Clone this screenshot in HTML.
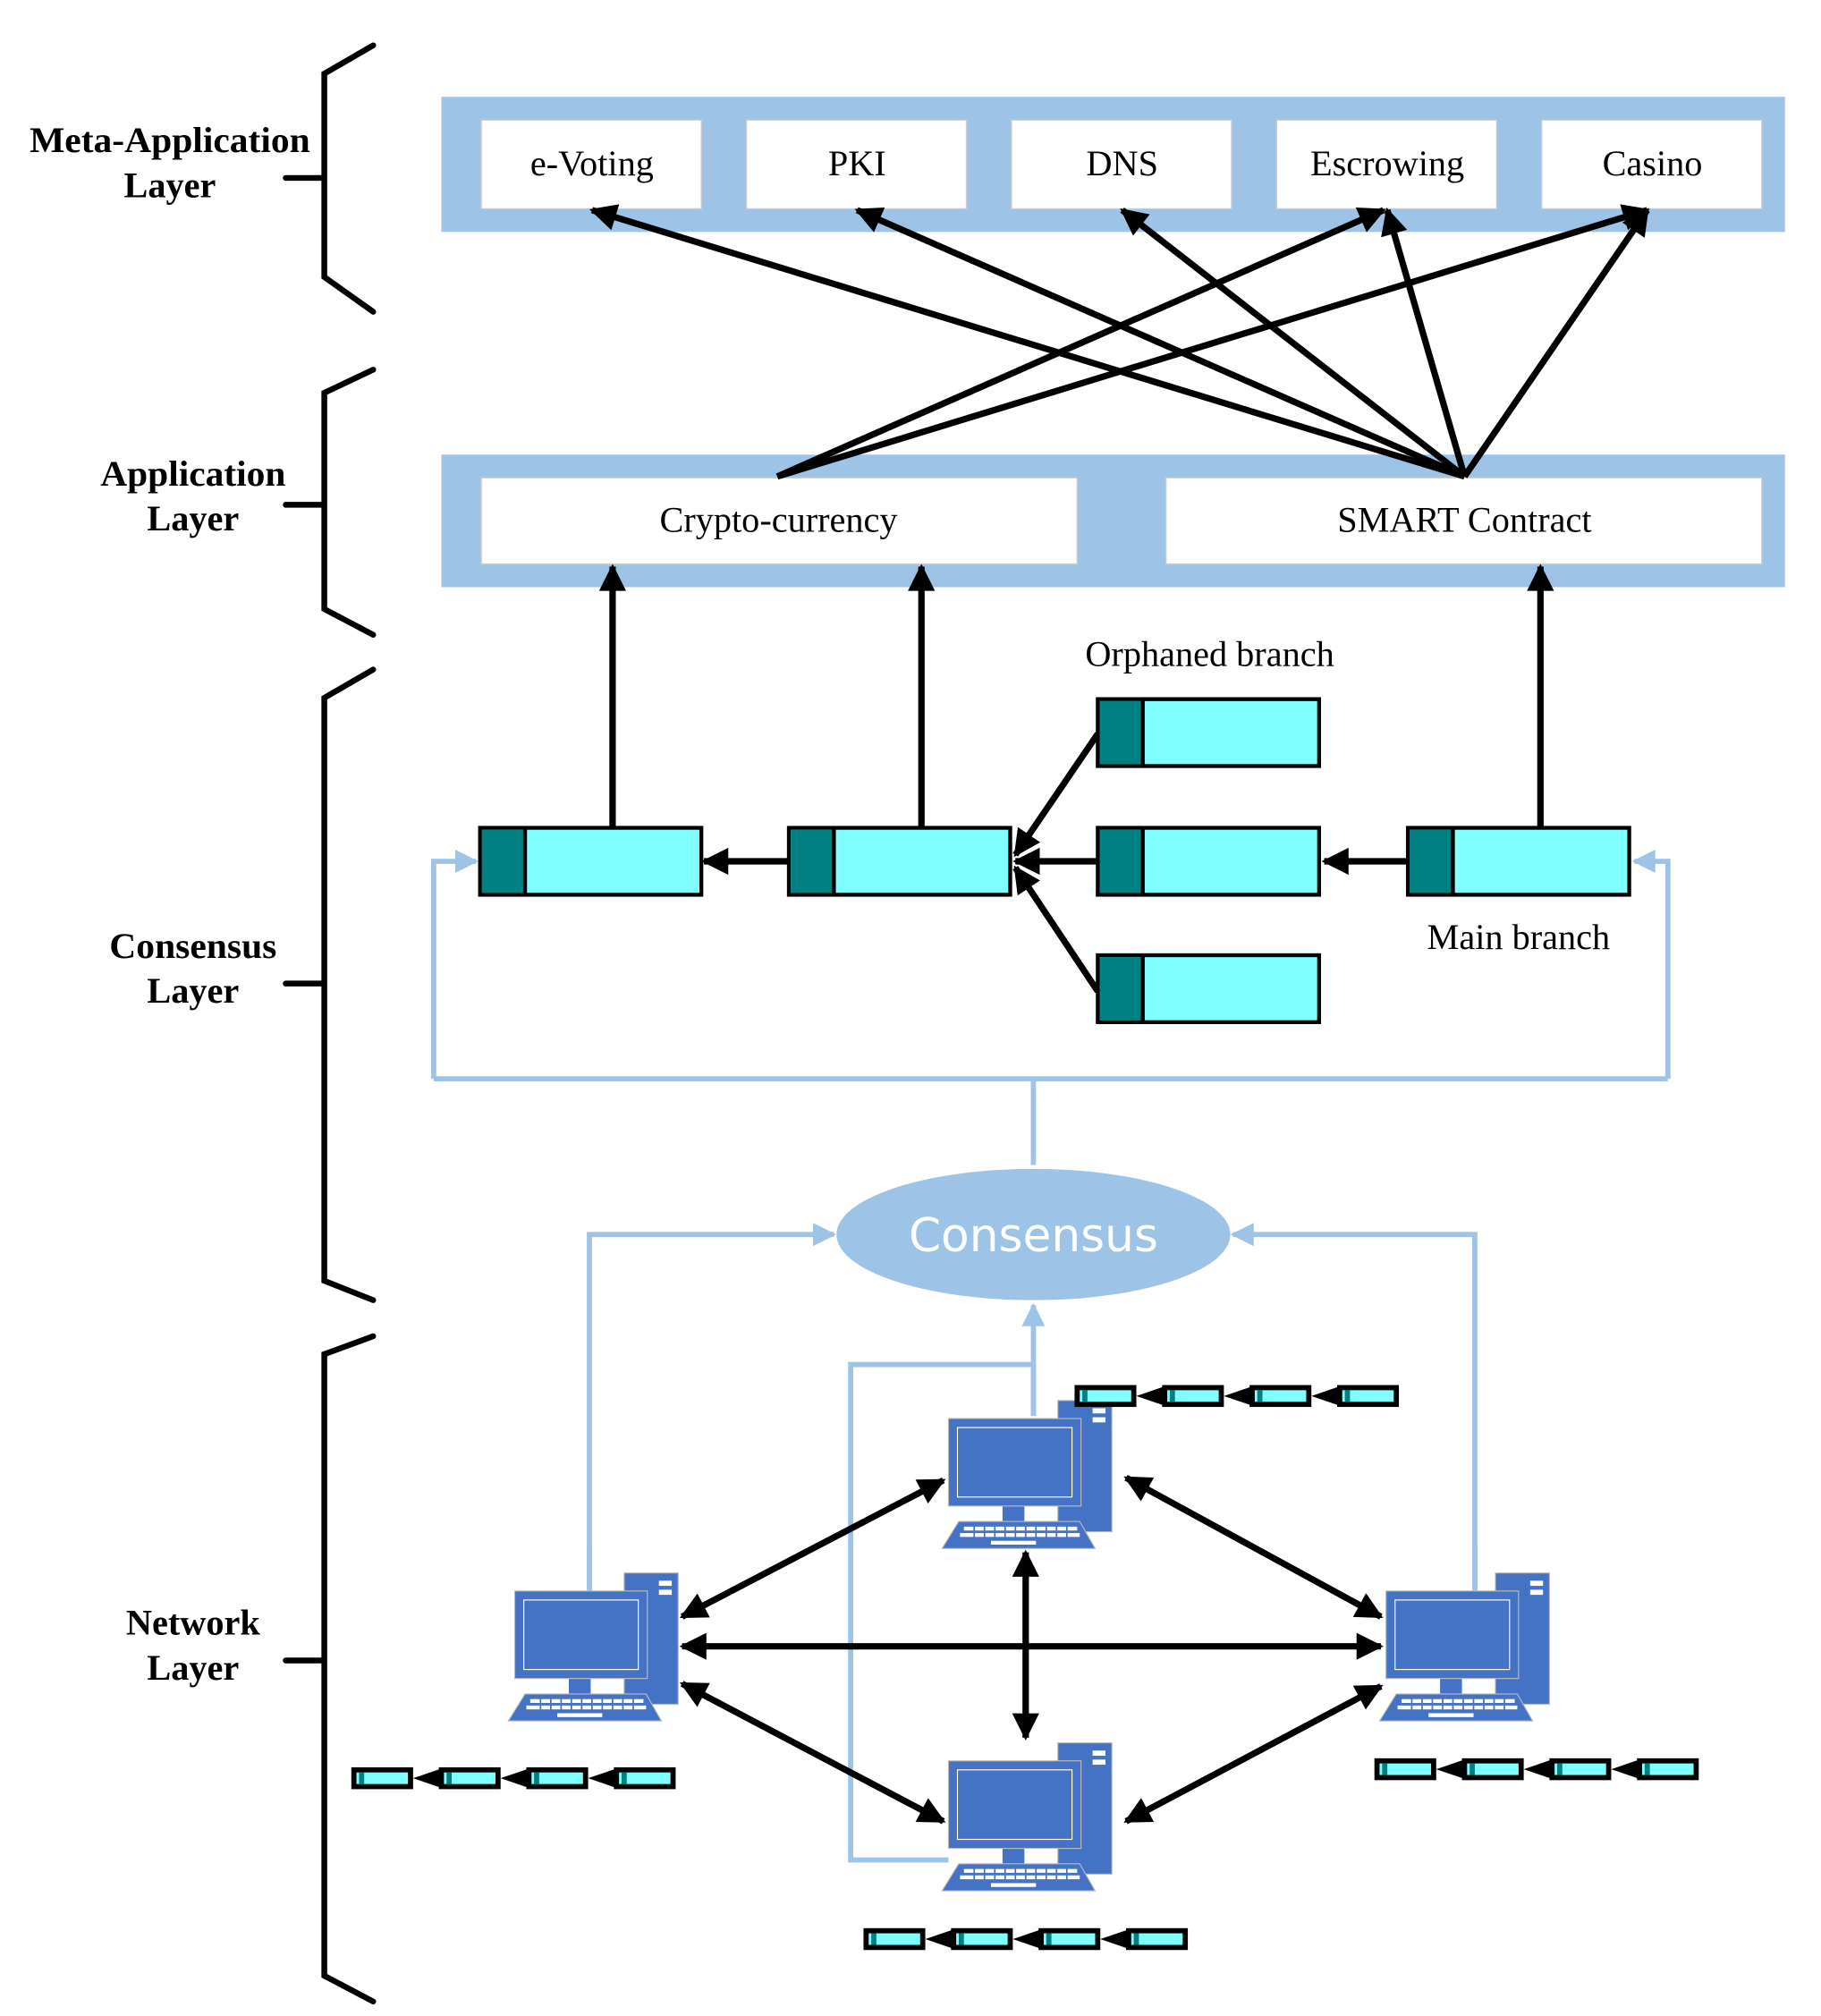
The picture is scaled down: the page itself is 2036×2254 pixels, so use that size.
<!DOCTYPE html>
<html><head><meta charset="utf-8"><style>html,body{margin:0;padding:0;background:#fff}svg{display:block}</style></head>
<body>
<svg width="2036" height="2254" viewBox="0 0 1415 1566" xmlns="http://www.w3.org/2000/svg">
<defs>
<marker id="ab" viewBox="0 0 10 10" refX="9" refY="5" markerWidth="5" markerHeight="4.2" orient="auto-start-reverse" markerUnits="strokeWidth"><path d="M0,0 L10,5 L0,10 z" fill="#000"/></marker>
<marker id="al" viewBox="0 0 10 10" refX="9" refY="5" markerWidth="7" markerHeight="4.5" orient="auto" markerUnits="strokeWidth"><path d="M0,0 L10,5 L0,10 z" fill="#9DC3E6"/></marker>
<g id="pc">
<rect x="85" y="-14" width="42" height="102" fill="#4472C4" stroke="#bbb" stroke-width="0.8"/>
<rect x="112" y="-8" width="10" height="4" fill="#fff"/><rect x="112" y="-1" width="10" height="4" fill="#fff"/>
<rect x="42" y="68" width="17" height="14" fill="#4472C4"/>
<rect x="0" y="0" width="103" height="68" fill="#4472C4" stroke="#bbb" stroke-width="0.8"/>
<rect x="7" y="7" width="89" height="54" fill="none" stroke="#fff" stroke-width="0.8"/>
<polygon points="-5,101 114,101 102,80 8,80" fill="#4472C4" stroke="#bbb" stroke-width="0.8"/>
<g fill="#fff"><rect x="12" y="84" width="88" height="3"/><rect x="9" y="89" width="93" height="3"/><rect x="33" y="95" width="35" height="3"/></g>
<g stroke="#4472C4" stroke-width="1.2"><path d="M20,83v10M28,83v10M36,83v10M44,83v10M52,83v10M60,83v10M68,83v10M76,83v10M84,83v10M92,83v10"/></g>
</g>
<g id="mb">
<rect x="2" y="2" width="44" height="13" fill="#7FFFFF" stroke="#000" stroke-width="4"/>
<rect x="6" y="4" width="4" height="9" fill="#008080"/>
</g>
<g id="chain">
<use href="#mb" x="0"/><use href="#mb" x="68"/><use href="#mb" x="136"/><use href="#mb" x="204"/>
<polygon points="48,8.5 70,1 70,16" fill="#000"/><polygon points="116,8.5 138,1 138,16" fill="#000"/><polygon points="184,8.5 206,1 206,16" fill="#000"/>
</g>
<g id="blk">
<rect x="0" y="0" width="172" height="52" fill="#7FFFFF" stroke="#000" stroke-width="3"/>
<rect x="1.5" y="1.5" width="33" height="49" fill="#008080"/>
<line x1="35" y1="0" x2="35" y2="52" stroke="#000" stroke-width="3"/>
</g>
</defs>

<g stroke="#000" stroke-width="4.5" fill="none" stroke-linecap="round">
<path d="M290,35 L252,57 V215 L290,242 M222,138 H252"/>
<path d="M290,287 L252,305 V473 L290,493 M222,392 H252"/>
<path d="M290,520 L252,542 V995 L290,1010 M222,764 H252"/>
<path d="M290,1038 L252,1052 V1535 L290,1555 M222,1290 H252"/>
</g>
<g font-family="Liberation Serif, serif" font-weight="bold" font-size="28" text-anchor="middle">
<text x="132" y="118" textLength="218" lengthAdjust="spacingAndGlyphs">Meta-Application</text><text x="132" y="153">Layer</text>
<text x="150" y="377" textLength="144" lengthAdjust="spacingAndGlyphs">Application</text><text x="150" y="412">Layer</text>
<text x="150" y="744" textLength="130" lengthAdjust="spacingAndGlyphs">Consensus</text><text x="150" y="779">Layer</text>
<text x="150" y="1270">Network</text><text x="150" y="1305">Layer</text>
</g>

<rect x="343" y="75" width="1044" height="105" fill="#9DC3E6"/>
<g fill="#fff" stroke="#ccc" stroke-width="1">
<rect x="374" y="93" width="171" height="69"/><rect x="580" y="93" width="171" height="69"/><rect x="786" y="93" width="171" height="69"/><rect x="992" y="93" width="171" height="69"/><rect x="1198" y="93" width="171" height="69"/>
</g>
<rect x="343" y="353" width="1044" height="103" fill="#9DC3E6"/>
<g fill="#fff" stroke="#ccc" stroke-width="1"><rect x="374" y="371" width="463" height="67"/><rect x="906" y="371" width="463" height="67"/></g>
<g font-family="Liberation Serif, serif" font-size="28" text-anchor="middle">
<text x="460" y="136">e-Voting</text><text x="666" y="136">PKI</text><text x="872" y="136">DNS</text><text x="1078" y="136">Escrowing</text><text x="1284" y="136">Casino</text>
<text x="605" y="413">Crypto-currency</text><text x="1138" y="413">SMART Contract</text>
<text x="940" y="517">Orphaned branch</text><text x="1180" y="737">Main branch</text>
</g>

<g stroke="#000" stroke-width="5" fill="none" marker-end="url(#ab)">
<line x1="1138" y1="370" x2="460" y2="163"/>
<line x1="1138" y1="370" x2="666" y2="163"/>
<line x1="1138" y1="370" x2="872" y2="163"/>
<line x1="1138" y1="370" x2="1078" y2="163"/>
<line x1="1138" y1="370" x2="1280" y2="163"/>
<line x1="604" y1="370" x2="1075" y2="163"/>
<line x1="604" y1="370" x2="1280" y2="163"/>
<line x1="476" y1="643" x2="476" y2="440"/>
<line x1="716" y1="643" x2="716" y2="440"/>
<line x1="1197" y1="643" x2="1197" y2="440"/>
<line x1="613" y1="669" x2="547" y2="669"/>
<line x1="853" y1="669" x2="789" y2="669"/>
<line x1="1094" y1="669" x2="1029" y2="669"/>
<line x1="853" y1="570" x2="789" y2="664"/>
<line x1="853" y1="770" x2="789" y2="674"/>
</g>
<use href="#blk" x="373" y="643"/><use href="#blk" x="613" y="643"/><use href="#blk" x="853" y="643"/><use href="#blk" x="853" y="543"/><use href="#blk" x="853" y="742"/><use href="#blk" x="1094" y="643"/>

<g stroke="#9DC3E6" stroke-width="4" fill="none">
<path d="M803,905 V838 M337,838 H1296"/>
<path d="M337,838 V669 H370" marker-end="url(#al)"/>
<path d="M1296,838 V669 H1270" marker-end="url(#al)"/>
<path d="M458,1236 V959 H648" marker-end="url(#al)"/>
<path d="M1146,1236 V959 H958" marker-end="url(#al)"/>
<path d="M803,1100 V1014" marker-end="url(#al)"/>
<path d="M803,1060 H661 V1445 H737"/>
</g>
<ellipse cx="803" cy="959" rx="153" ry="51" fill="#9DC3E6"/>
<text x="803" y="972" font-family="DejaVu Sans, sans-serif" font-size="36" fill="#fff" text-anchor="middle">Consensus</text>

<g stroke="#000" stroke-width="5" fill="none" marker-end="url(#ab)" marker-start="url(#ab)">
<line x1="733" y1="1150" x2="530" y2="1256"/>
<line x1="875" y1="1148" x2="1073" y2="1256"/>
<line x1="530" y1="1279" x2="1073" y2="1279"/>
<line x1="797" y1="1206" x2="797" y2="1350"/>
<line x1="530" y1="1308" x2="733" y2="1415"/>
<line x1="875" y1="1415" x2="1073" y2="1310"/>
</g>
<use href="#pc" x="737" y="1102"/>
<use href="#pc" x="400" y="1236"/>
<use href="#pc" x="1077" y="1236"/>
<use href="#pc" x="737" y="1368"/>
<path d="M803,1060 V1100" stroke="#9DC3E6" stroke-width="4"/>
<path d="M458,1236 V1200" stroke="#9DC3E6" stroke-width="4"/>
<path d="M1146,1236 V1200" stroke="#9DC3E6" stroke-width="4"/>

<use href="#chain" x="835" y="1076"/>
<use href="#chain" x="273" y="1373"/>
<use href="#chain" x="1068" y="1366"/>
<use href="#chain" x="671" y="1498"/>
</svg>
</body></html>
